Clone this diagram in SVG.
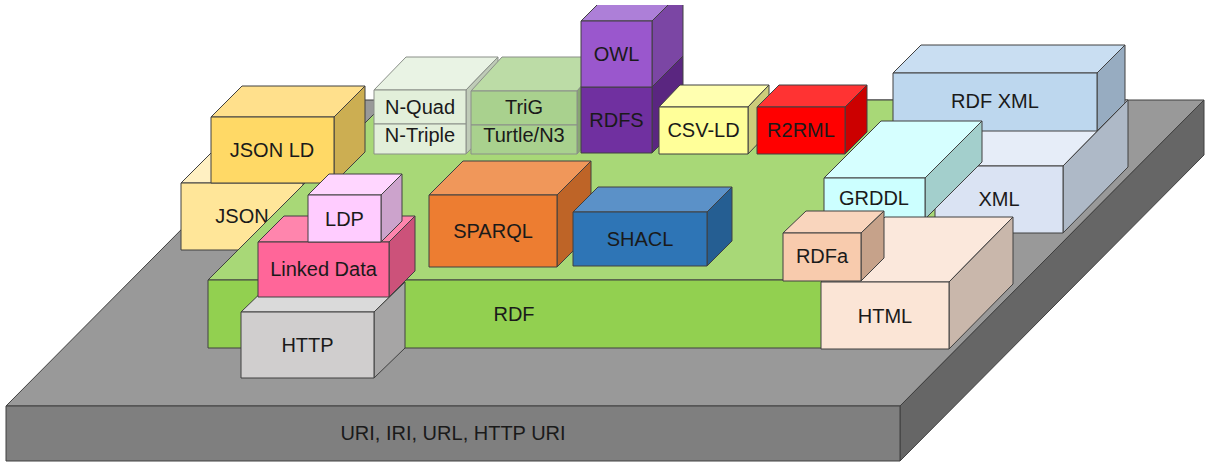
<svg xmlns="http://www.w3.org/2000/svg" width="1205" height="464" viewBox="0 0 1205 464">
<defs>
<style>
polygon, rect { stroke: #404040; stroke-width: 1; stroke-linejoin: round; }
.soft polygon, .soft rect { stroke: #8a8f88; }
text { font-family: "Liberation Sans", Arial, sans-serif; font-size: 20px; fill: #1a1a1a; text-anchor: middle; }
</style>
<clipPath id="topcut"><rect x="0" y="5" width="1205" height="459" style="stroke:none"/></clipPath>
</defs>
<rect x="0" y="0" width="1205" height="464" fill="#ffffff" style="stroke:none"/>

<g id="base">
<polygon points="6,406 310,100 1204,100 900,406" fill="#999999"/>
<polygon points="900,406 1204,100 1204,155 900,461" fill="#666666"/>
<rect x="6" y="406" width="894" height="55" fill="#7f7f7f"/>
<text x="453" y="440">URI, IRI, URL, HTTP URI</text>
</g>

<g id="json">
<polygon points="181,183 211,153 333,153 303,183" fill="#fff0c2"/>
<polygon points="303,183 333,153 333,220 303,250" fill="#ccb87a"/>
<rect x="181" y="183" width="122" height="67" fill="#ffe699"/>
<text x="242" y="223">JSON</text>
</g>

<g id="rdf">
<polygon points="208,280 388,100 1060,100 880,280" fill="#a8d877"/>
<polygon points="880,280 1060,100 1060,168 880,348" fill="#75a640"/>
<rect x="208" y="280" width="672" height="68" fill="#92d050"/>
<text x="514" y="321">RDF</text>
</g>

<g id="jsonld">
<polygon points="211,117 242,86 365,86 334,117" fill="#ffe08c"/>
<polygon points="334,117 365,86 365,152 334,183" fill="#ccae52"/>
<rect x="211" y="117" width="123" height="66" fill="#ffd966"/>
<text x="272" y="157">JSON LD</text>
</g>

<g id="nquad" class="soft">
<polygon points="374,90 406,57 498,57 466,90" fill="#e9f3e4"/>
<polygon points="466,90 498,57 498,121 466,154" fill="#bfcbb8"/>
<rect x="374" y="90" width="92" height="34" fill="#e2efda"/>
<rect x="374" y="124" width="92" height="30" fill="#e2efda"/>
<text x="420" y="114">N-Quad</text>
<text x="420" y="142">N-Triple</text>
</g>

<g id="trig" class="soft">
<polygon points="471,91 502,57 608,57 577,91" fill="#bcdca6"/>
<polygon points="577,91 608,57 608,120 577,154" fill="#87a772"/>
<rect x="471" y="91" width="106" height="34" fill="#a9d18e"/>
<rect x="471" y="125" width="106" height="29" fill="#a9d18e"/>
<text x="524" y="114">TriG</text>
<text x="524" y="142">Turtle/N3</text>
</g>

<g id="rdfs">
<polygon points="652,87 683,56 683,122 652,153" fill="#5a2680"/>
<rect x="581" y="87" width="71" height="66" fill="#7030a0"/>
<text x="616.5" y="127">RDFS</text>
</g>

<g id="owl" clip-path="url(#topcut)">
<polygon points="581,21 612,-10 683,-10 652,21" fill="#ad7fd8"/>
<polygon points="652,21 683,-10 683,56 652,87" fill="#7b46a4"/>
<rect x="581" y="21" width="71" height="66" fill="#9a57cd"/>
<text x="616.5" y="61">OWL</text>
</g>

<g id="csvld">
<polygon points="659,107 680,85 769,85 748,107" fill="#ffffb0"/>
<polygon points="748,107 769,85 769,132 748,154" fill="#cccc7a"/>
<rect x="659" y="107" width="89" height="47" fill="#ffff99"/>
<text x="703.5" y="137">CSV-LD</text>
</g>

<g id="r2rml">
<polygon points="757,107 779,85 867,85 845,107" fill="#ff3333"/>
<polygon points="845,107 867,85 867,132 845,154" fill="#cc0000"/>
<rect x="757" y="107" width="88" height="47" fill="#ff0000"/>
<text x="801" y="137">R2RML</text>
</g>

<g id="sparql">
<polygon points="429,195 463,161 591,161 557,195" fill="#f0975a"/>
<polygon points="557,195 591,161 591,233 557,267" fill="#be6427"/>
<rect x="429" y="195" width="128" height="72" fill="#ed7d31"/>
<text x="493" y="238">SPARQL</text>
</g>

<g id="shacl">
<polygon points="573,212 598,187 732,187 707,212" fill="#5b91c8"/>
<polygon points="707,212 732,187 732,241 707,266" fill="#255e92"/>
<rect x="573" y="212" width="134" height="54" fill="#2e75b6"/>
<text x="640" y="246">SHACL</text>
</g>

<g id="http">
<polygon points="241,312 272,282 405,282 374,312" fill="#dadada"/>
<polygon points="374,312 405,282 405,348 374,378" fill="#a6a5a5"/>
<rect x="241" y="312" width="133" height="66" fill="#d0cece"/>
<text x="307.5" y="352">HTTP</text>
</g>

<g id="linkeddata">
<polygon points="258,242 284,216 415,216 389,242" fill="#ff85ad"/>
<polygon points="389,242 415,216 415,271 389,297" fill="#cc527a"/>
<rect x="258" y="242" width="131" height="55" fill="#ff6699"/>
<text x="323.5" y="276">Linked Data</text>
</g>

<g id="ldp">
<polygon points="308,195 329,174 402,174 381,195" fill="#ffd6ff"/>
<polygon points="381,195 402,174 402,221 381,242" fill="#cca3cc"/>
<rect x="308" y="195" width="73" height="47" fill="#ffccff"/>
<text x="344.5" y="226">LDP</text>
</g>

<g id="xml">
<polygon points="935,166 1000,100 1128,100 1063,166" fill="#e6edf8"/>
<polygon points="1063,166 1128,100 1128,167 1063,233" fill="#aeb9c7"/>
<rect x="935" y="166" width="128" height="67" fill="#dae3f3"/>
<text x="999" y="206">XML</text>
</g>

<g id="rdfxml">
<polygon points="893,73 921,45 1125,45 1097,73" fill="#c9def2"/>
<polygon points="1097,73 1125,45 1125,103 1097,131" fill="#97acc1"/>
<rect x="893" y="73" width="204" height="58" fill="#bdd7ee"/>
<text x="995" y="108">RDF XML</text>
</g>

<g id="grddl">
<polygon points="824,178 881,121 982,121 925,178" fill="#d6ffff"/>
<polygon points="925,178 982,121 982,162 925,219" fill="#a3cfcc"/>
<rect x="824" y="178" width="101" height="41" fill="#ccffff"/>
<text x="874" y="205">GRDDL</text>
</g>

<g id="html">
<polygon points="821,282 885,217 1013,217 949,282" fill="#fbe8dc"/>
<polygon points="949,282 1013,217 1013,284 949,349" fill="#c9b7ab"/>
<rect x="821" y="282" width="128" height="67" fill="#fbe5d6"/>
<text x="885" y="323">HTML</text>
</g>

<g id="rdfa">
<polygon points="783,233 806,211 884,211 861,233" fill="#f9d5bd"/>
<polygon points="861,233 884,211 884,258 861,281" fill="#c6a28a"/>
<rect x="783" y="233" width="78" height="48" fill="#f8cbad"/>
<text x="822" y="263">RDFa</text>
</g>
</svg>
